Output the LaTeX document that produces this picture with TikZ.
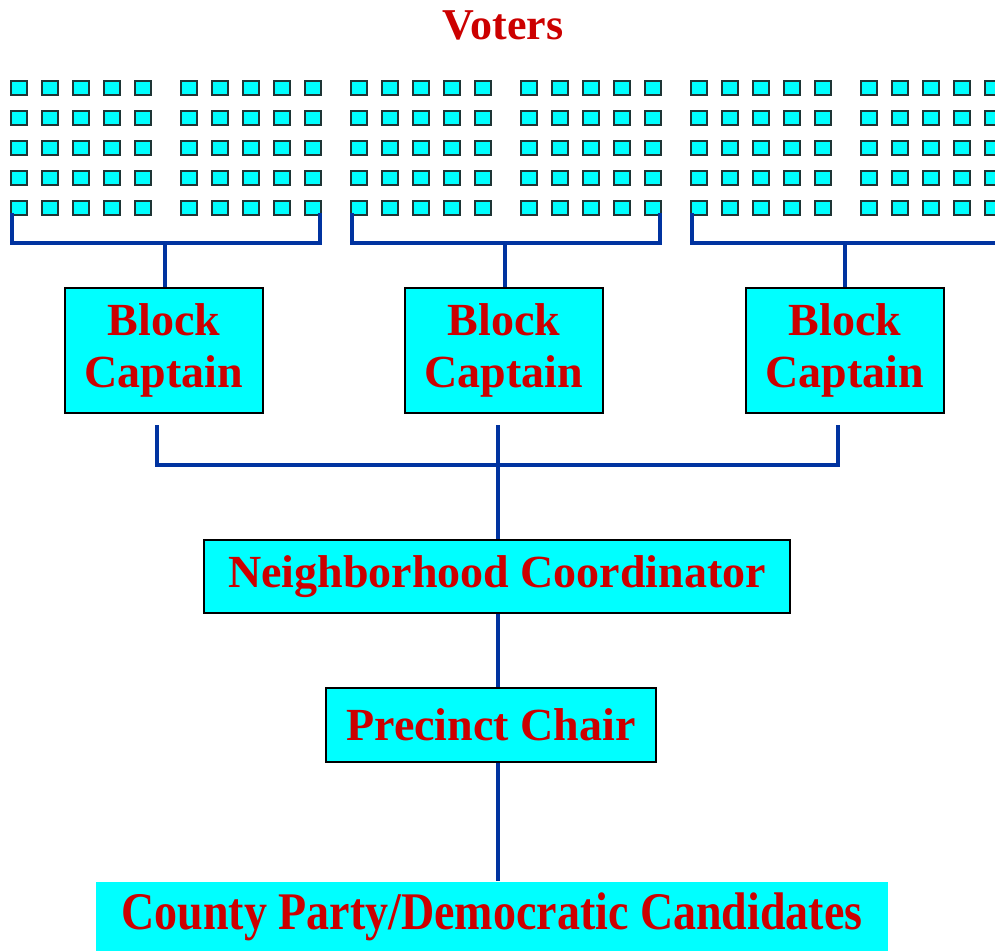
\documentclass[tikz,border=0pt]{standalone}
\usepackage{fontspec}
\setmainfont{Liberation Serif}
\definecolor{lbl}{HTML}{CC0000}
\definecolor{wirec}{HTML}{0033A0}
\definecolor{boxc}{HTML}{00FFFF}
\definecolor{edgec}{HTML}{1E3535}
\begin{document}
\begin{tikzpicture}[x=1pt,y=-1pt,
  box/.style={draw=black, line width=2pt, fill=boxc, inner sep=0pt, text=lbl,
    font=\fontsize{46}{52}\selectfont\bfseries, align=center},
  voter/.style={draw=edgec, line width=2pt, fill=boxc, minimum width=16pt,
    minimum height=14pt, inner sep=0pt},
  wire/.style={draw=wirec, line width=4.5pt}]
\useasboundingbox (0,0) rectangle (995,951);

% title
\node[text=lbl, font=\fontsize{44}{50}\selectfont\bfseries] (title) at (503,25) {Voters};

% voter squares
\foreach \g/\n in {0/1,340/2,680/3}{
  \foreach \c in {0,...,4}{
    \foreach \r in {0,...,4}{
      \node[voter] (v\n-a-\c-\r) at ({\g+18.5+\c*31},{87.5+\r*30}) {};
      \node[voter] (v\n-b-\c-\r) at ({\g+188.5+\c*31},{87.5+\r*30}) {};
    }
  }
}

% block captain boxes
\node[box, minimum width=198pt, minimum height=125pt] (b1) at (164,350.5) {Block\\Captain};
\node[box, minimum width=198pt, minimum height=125pt] (b2) at (504,350.5) {Block\\Captain};
\node[box, minimum width=198pt, minimum height=125pt] (b3) at (845,350.5) {Block\\Captain};

% lower boxes
\node[box, minimum width=586pt, minimum height=73pt] (nc) at (497,576.5) {Neighborhood Coordinator};
\node[box, minimum width=330pt, minimum height=74pt] (pc) at (491,725) {Precinct Chair};
\node[box, draw=none, minimum width=792pt, minimum height=69pt,
  font=\fontsize{46}{52}\selectfont] (cp) at (492,916.5)
  {\scalebox{1}[1.15]{\bfseries County Party/Democratic Candidates}};

% brackets above block captains
\foreach \g/\n in {0/1,340/2,680/3}{
  \coordinate (bl\n) at ({\g+12},213);
  \coordinate (br\n) at ({\g+320},213);
  \coordinate (bm\n) at ({\g+165},243);
  \draw[wire] (bl\n) -- ++(0,30) -| (br\n);
}
\draw[wire] (bm1) -- (bm1 |- b1.north);
\draw[wire] (bm2) -- (bm2 |- b2.north);
\draw[wire] (bm3) -- (bm3 |- b3.north);

% connector below block captains
\coordinate (l1) at (157,425);
\coordinate (l2) at (498,425);
\coordinate (l3) at (838,425);
\draw[wire] (l1) -- ++(0,40) -| (l3);
\draw[wire] (l2) -- (l2 |- nc.north);
\draw[wire] (l2 |- nc.south) -- (l2 |- pc.north);
\draw[wire] (l2 |- pc.south) -- (l2 |- cp.north);
\end{tikzpicture}
\end{document}
